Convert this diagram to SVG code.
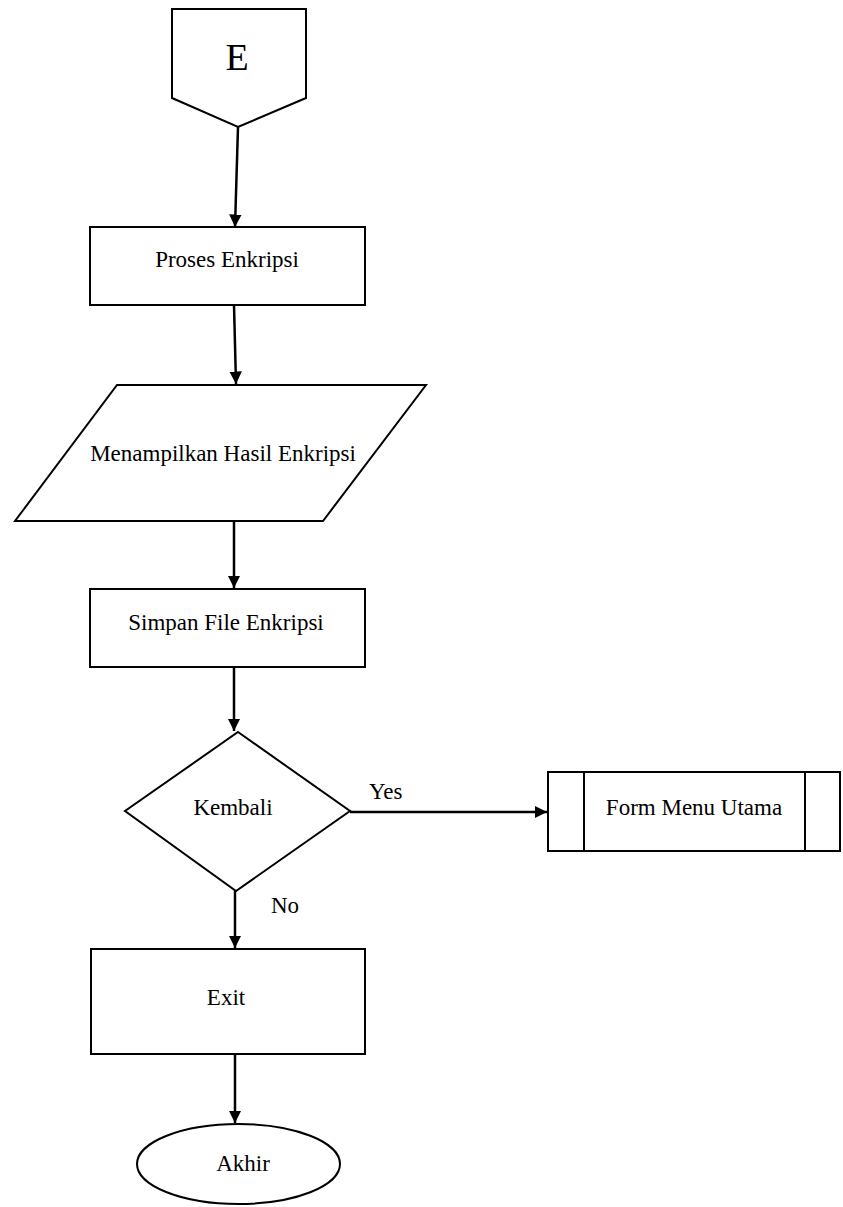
<svg xmlns="http://www.w3.org/2000/svg" width="843" height="1207" viewBox="0 0 843 1207">
  <style>
    .shape { fill: #ffffff; stroke: #000000; stroke-width: 2; }
    .line { fill: none; stroke: #000000; stroke-width: 2.5; }
    .label { font-family: "Liberation Serif", "Times New Roman", serif; font-size: 23px; fill: #000000; }
    .mid { text-anchor: middle; }
  </style>
  <defs>
    <marker id="arrow" viewBox="0 0 10 10" refX="10" refY="5" markerWidth="5" markerHeight="5" orient="auto" markerUnits="strokeWidth">
      <path d="M0,0 L10,5 L0,10 z" fill="#000000"/>
    </marker>
  </defs>
  <rect width="843" height="1207" fill="#ffffff"/>

  <!-- connectors -->
  <g id="connectors">
    <line class="line" x1="238" y1="127" x2="235" y2="227" marker-end="url(#arrow)"/>
    <line class="line" x1="234" y1="305" x2="236" y2="384" marker-end="url(#arrow)"/>
    <line class="line" x1="234" y1="521" x2="234" y2="588" marker-end="url(#arrow)"/>
    <line class="line" x1="234" y1="667" x2="234" y2="731" marker-end="url(#arrow)"/>
    <line class="line" x1="350" y1="812" x2="547" y2="812" marker-end="url(#arrow)"/>
    <line class="line" x1="235" y1="891" x2="235" y2="948" marker-end="url(#arrow)"/>
    <line class="line" x1="235" y1="1054" x2="235" y2="1123" marker-end="url(#arrow)"/>
    <text class="label" x="369" y="799">Yes</text>
    <text class="label" x="271" y="913">No</text>
  </g>

  <!-- off-page connector -->
  <g id="node-e">
    <path class="shape" d="M172,9 L306,9 L306,98 L238,127 L172,98 Z"/>
    <text class="label mid" x="237" y="70" style="font-size:38px">E</text>
  </g>

  <g id="node-proses">
    <rect class="shape" x="90" y="227" width="275" height="78"/>
    <text class="label mid" x="227" y="267">Proses Enkripsi</text>
  </g>

  <g id="node-tampil">
    <path class="shape" d="M117,385 L426,385 L323,521 L15,521 Z"/>
    <text class="label mid" x="223" y="461">Menampilkan Hasil Enkripsi</text>
  </g>

  <g id="node-simpan">
    <rect class="shape" x="90" y="589" width="275" height="78"/>
    <text class="label mid" x="226" y="630">Simpan File Enkripsi</text>
  </g>

  <g id="node-kembali">
    <path class="shape" d="M238,732 L350,811 L236,891 L125,811 Z"/>
    <text class="label mid" x="233" y="815">Kembali</text>
  </g>

  <g id="node-menu">
    <rect class="shape" x="548" y="772" width="292" height="79"/>
    <line class="shape" x1="584" y1="772" x2="584" y2="851"/>
    <line class="shape" x1="805" y1="772" x2="805" y2="851"/>
    <text class="label mid" x="694" y="815">Form Menu Utama</text>
  </g>

  <g id="node-exit">
    <rect class="shape" x="91" y="949" width="274" height="105"/>
    <text class="label mid" x="226" y="1005">Exit</text>
  </g>

  <g id="node-akhir">
    <ellipse class="shape" cx="238.5" cy="1164" rx="101.5" ry="40"/>
    <text class="label mid" x="243" y="1171">Akhir</text>
  </g>
</svg>
